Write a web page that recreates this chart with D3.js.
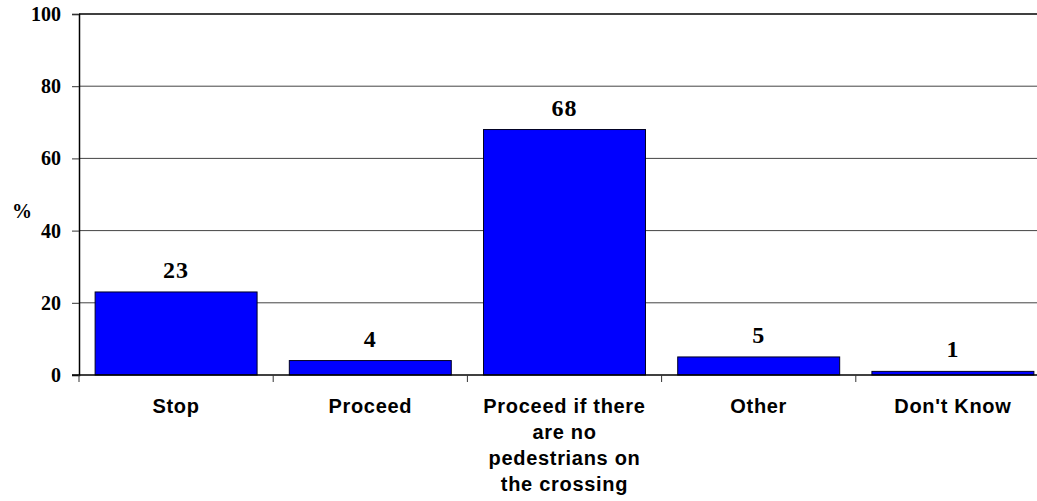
<!DOCTYPE html>
<html>
<head>
<meta charset="utf-8">
<script src="https://cdn.jsdelivr.net/npm/d3@7"></script>
<style>
  body { margin: 0; background: #fff; }
  svg { display: block; overflow: hidden; }
</style>
</head>
<body>
<div id="chart"></div>
<script>
const categories = [
  ["Stop"],
  ["Proceed"],
  ["Proceed if there", "are no", "pedestrians on", "the crossing"],
  ["Other"],
  ["Don't Know"]
];
const values = [23, 4, 68, 5, 1];
const yTicks = [0, 20, 40, 60, 80, 100];

const width = 1037, height = 501;
const svg = d3.select("#chart").append("svg")
  .attr("width", width)
  .attr("height", height);

// plot runs past the right edge like the original image
const x = d3.scaleBand()
  .domain(d3.range(categories.length))
  .range([79, 1050])
  .paddingInner(0.166)
  .paddingOuter(0.083);

const y = d3.scaleLinear().domain([0, 100]).range([375, 14]);

// gridlines
svg.append("g")
  .selectAll("line")
  .data(yTicks.filter(d => d > 0))
  .join("line")
  .attr("x1", 79).attr("x2", width)
  .attr("y1", d => y(d)).attr("y2", d => y(d))
  .attr("stroke", d => d === 100 ? "#000" : "#444")
  .attr("stroke-width", d => d === 100 ? 1.5 : 1);

// bars
svg.append("g")
  .selectAll("rect")
  .data(values)
  .join("rect")
  .attr("x", (d, i) => x(i))
  .attr("y", d => y(d))
  .attr("width", x.bandwidth())
  .attr("height", d => y(0) - y(d))
  .attr("fill", "#0000ff")
  .attr("stroke", "#000022")
  .attr("stroke-width", 1);

// value labels
svg.append("g")
  .selectAll("text")
  .data(values)
  .join("text")
  .attr("x", (d, i) => x(i) + x.bandwidth() / 2)
  .attr("y", d => y(d) - 14)
  .attr("text-anchor", "middle")
  .attr("font-family", "Liberation Serif, Times New Roman, serif")
  .attr("font-weight", "bold")
  .attr("font-size", 24)
  .attr("letter-spacing", 1)
  .text(d => d);

// y axis
const yAxis = svg.append("g")
  .attr("transform", "translate(79,0)")
  .call(d3.axisLeft(y).tickValues(yTicks).tickSize(7).tickPadding(11));
yAxis.select(".domain").attr("stroke", "#000").attr("stroke-width", 1.5);
yAxis.selectAll(".tick line").attr("stroke", "#333");
yAxis.selectAll("text")
  .attr("font-family", "Liberation Serif, Times New Roman, serif")
  .attr("font-weight", "bold")
  .attr("font-size", 20)
  .attr("fill", "#000");

// x axis
const step = x.step();
const xAxis = svg.append("g").attr("transform", `translate(0,${y(0)})`);
xAxis.append("line")
  .attr("x1", 72).attr("x2", width)
  .attr("stroke", "#000").attr("stroke-width", 1.5);
xAxis.selectAll(".tk")
  .data(d3.range(categories.length + 1))
  .join("line")
  .attr("class", "tk")
  .attr("x1", i => 79 + i * step).attr("x2", i => 79 + i * step)
  .attr("y1", 0).attr("y2", 7)
  .attr("stroke", "#333");

const labels = xAxis.selectAll(".lbl")
  .data(categories)
  .join("text")
  .attr("class", "lbl")
  .attr("x", (d, i) => x(i) + x.bandwidth() / 2)
  .attr("y", 38)
  .attr("text-anchor", "middle")
  .attr("font-family", "Liberation Sans, Arial, sans-serif")
  .attr("font-weight", "bold")
  .attr("font-size", 20)
  .attr("letter-spacing", 0.7);
labels.selectAll("tspan")
  .data(d => d)
  .join("tspan")
  .attr("x", function() { return this.parentNode.getAttribute("x"); })
  .attr("dy", (d, i) => i === 0 ? 0 : 26)
  .text(d => d);

// y title
svg.append("text")
  .attr("x", 22).attr("y", 218)
  .attr("text-anchor", "middle")
  .attr("font-family", "Liberation Serif, Times New Roman, serif")
  .attr("font-weight", "bold")
  .attr("font-size", 20)
  .text("%");
</script>
</body>
</html>
